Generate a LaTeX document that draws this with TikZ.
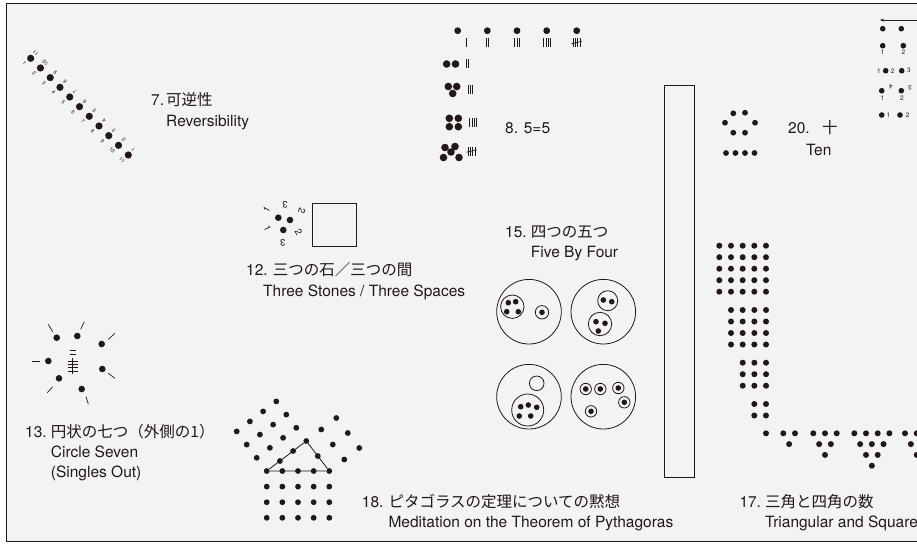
\documentclass[tikz,border=0pt]{standalone}
\usepackage{fontspec}
\setmainfont{TeX Gyre Heros}
\newfontfamily\jp{Noto Sans CJK JP}
\usetikzlibrary{arrows.meta}
\definecolor{ink}{HTML}{231815}
\definecolor{paper}{HTML}{F3F3F3}
\tikzset{
  dot/.style={circle,fill=ink,draw=none,inner sep=0pt,minimum size=#1},
  dot/.default=6pt,
  ring/.style={circle,draw=ink,line width=0.8pt,inner sep=0pt,minimum size=#1},
  lbl/.style={anchor=base west,inner sep=0pt,text=ink,font=\fontsize{15.5}{18}\selectfont},
  tiny/.style={inner sep=0pt,text=ink,font=\fontsize{6.5}{7}\selectfont},
  micro/.style={inner sep=0pt,text=ink,font=\fontsize{5.2}{6}\selectfont},
  mid/.style={inner sep=0pt,text=ink,font=\fontsize{9.5}{10}\selectfont},
  tal/.style={draw=ink,line width=0.7pt},
  edge/.style={draw=ink,line width=0.8pt},
}
\newcommand\tallyv[4]{\foreach \k in {1,...,#3}{\draw[tal] (#1+\k*2.4-2.4,#2-#4/2) -- (#1+\k*2.4-2.4,#2+#4/2);}}
\newcommand\tallyfive[3]{\tallyv{#1}{#2}{4}{#3}\draw[tal] (#1-1.5,#2+1.2) -- (#1+8.7,#2-1.2);}
\begin{document}
\begin{tikzpicture}[x=1pt,y=-1pt]
\useasboundingbox (0,0) rectangle (917,555);
\fill[white] (0,0) rectangle (917,555);
\fill[paper] (6,3) rectangle (930,541);
\draw[ink,line width=1pt] (930,3) -- (6,3) -- (6,541) -- (930,541);

% ---------- 7. Reversibility
\foreach \i in {1,...,11}{
  \pgfmathsetmacro\xx{30.7+9.76*(\i-1)}
  \pgfmathsetmacro\yy{58.3+9.67*(\i-1)}
  \pgfmathtruncatemacro\j{12-\i}
  \node[dot=7.2pt] (s\i) at (\xx,\yy) {};
  \node[micro,rotate=-45] (sl\i) at (\xx-6.3,\yy+5.3) {\i};
  \node[micro,rotate=135] (sr\i) at (\xx+5,\yy-5.3) {\j};
}
\node[lbl] (t7) at (151,105.5) {\makebox[15pt][l]{7.}{\jp 可逆性}};
\node[lbl] (t7e) at (166,126.5) {Reversibility};

% ---------- 8. 5=5
\foreach \n/\x in {1/457.7,2/487.3,3/517,4/546.7,5/576.7}{
  \node[dot=6.8pt] (f\n) at (\x,30.7) {};
}
\tallyv{466.7}{42.5}{1}{9}
\tallyv{486.1}{42.5}{2}{9}
\tallyv{514.6}{42.5}{3}{9}
\tallyv{543.5}{42.5}{4}{9}
\tallyfive{573}{42.5}{9}
\node[dot=7.6pt] (g1) at (446.7,64) {};
\node[dot=7.6pt] (g2) at (455.5,64) {};
\tallyv{466}{63}{2}{9}
\node[dot=7.6pt] (h1) at (448.3,86.5) {};
\node[dot=7.6pt] (h2) at (456.7,86.5) {};
\node[dot=7.6pt] (h3) at (452.7,93.5) {};
\tallyv{468}{89}{3}{9}
\node[dot=7.6pt] (k1) at (449.3,118.3) {};
\node[dot=7.6pt] (k2) at (458.3,118.3) {};
\node[dot=7.6pt] (k3) at (449.3,126.7) {};
\node[dot=7.6pt] (k4) at (458.3,126.7) {};
\tallyv{469.5}{122}{4}{9}
\node[dot=7.6pt] (m1) at (445,147.5) {};
\node[dot=7.6pt] (m2) at (455,146.5) {};
\node[dot=7.6pt] (m3) at (451,152) {};
\node[dot=7.6pt] (m4) at (443.5,157.5) {};
\node[dot=7.6pt] (m5) at (459,157.5) {};
\tallyfive{468}{151}{9}
\node[lbl] (t8) at (505,133.5) {8. 5=5};

% ---------- column
\draw[ink,line width=1pt] (664,85) rectangle (694,477);

% ---------- 20. Ten
\foreach \n/\x/\y in {1/733.3/113.3,2/745/112.7,3/725/122.7,4/755/122.7,5/733.3/132.7,6/745/132.7,7/726/153,8/735.5/153,9/745/153,10/754.5/153}{
  \node[dot=5.8pt] (u\n) at (\x,\y) {};
}
\node[lbl] (t20) at (788,133.5) {\makebox[34pt][l]{20.}{\jp 十}};
\node[lbl] (t20e) at (806,155.5) {Ten};

% ---------- top right
\coordinate (arS) at (917,20);
\coordinate (arE) at (880,20);
\draw[ink,line width=0.7pt,-{Stealth[length=4pt,width=3pt]}] (arS) -- (arE);
\node[dot=5.6pt] (r1) at (882.7,28.7) {};
\node[dot=5.6pt] (r2) at (901.3,28.7) {};
\node[dot=5.6pt] (r3) at (882.7,45.7) {};
\node[dot=5.6pt] (r4) at (903.3,45.7) {};
\node[tiny] (r3l) at (882.7,52.5) {1};
\node[tiny] (r4l) at (903.3,52.5) {2};
\node[tiny] (r5a) at (879,70.7) {1};
\node[dot=5.6pt] (r5) at (885.7,70.7) {};
\node[tiny] (r5b) at (892.7,70.7) {2};
\node[dot=5.6pt] (r6) at (901.7,70.7) {};
\node[tiny] (r6b) at (909,70.7) {3};
\node[dot=5.6pt] (r7) at (881.7,90.7) {};
\node[tiny,rotate=180] (r7a) at (890.7,87.3) {4};
\node[tiny] (r7b) at (882.3,98.5) {1};
\node[dot=5.6pt] (r8) at (901.3,90.7) {};
\node[tiny,rotate=180] (r8a) at (910,87.3) {3};
\node[tiny] (r8b) at (902,98.5) {2};
\node[dot=5.6pt] (r9) at (881.7,115) {};
\node[tiny] (r9a) at (888.3,115) {1};
\node[dot=5.6pt] (r10) at (900,115) {};
\node[tiny] (r10a) at (907.7,115) {2};

% ---------- 12. Three stones
\node[dot=6.6pt] (a1) at (278.3,217.7) {};
\node[dot=6.6pt] (a2) at (290,220) {};
\node[dot=6.6pt] (a3) at (283.3,230) {};
\node[mid,rotate=180] (a1t) at (285,205) {3};
\node[mid,rotate=-105] (a2t) at (302,210.5) {2};
\node[mid,rotate=60] (a1l) at (266.5,209.5) {1};
\node[mid,rotate=-65] (a3l) at (267.5,228.5) {1};
\node[mid,rotate=-60] (a2b) at (298.5,232) {2};
\node[mid,rotate=180] (a3b) at (282.7,243) {3};
\draw[ink,line width=1pt] (312.3,203.3) rectangle (356,246.7);
\node[lbl] (t12) at (246,275.5) {\makebox[26.6pt][l]{12.}{\jp 三つの石／三つの間}};
\node[lbl] (t12e) at (263,296.5) {Three Stones / Three Spaces};

% ---------- 13. Circle seven
\foreach \n/\x/\y/\ax/\ay/\bx/\by in {
  1/56.7/337.7/48.3/324.3/52.7/331.7,
  2/77.3/336/84.3/321.7/80.7/329.3,
  3/101.7/344/115/333.3/108.3/339.3,
  4/48.3/361/31.7/361.7/40/361.7,
  5/102.3/369/115/378.3/108.3/373.3,
  6/59/378.3/47.3/392.7/52.7/386.7,
  7/81.7/389/88.3/404/86/396.7}{
  \node[dot=6.6pt] (c\n) at (\x,\y) {};
  \draw[tal] (\ax,\ay) -- (\bx,\by);
}
\draw[tal] (69.5,350.5) -- (76,350.5);
\draw[tal] (69.5,354) -- (76,354);
\foreach \yy in {361,364.3,367.6,370.9}{\draw[tal] (67.5,\yy) -- (78,\yy);}
\draw[tal] (72.7,358) -- (72.7,374);
\node[lbl] (t13) at (25,437) {\makebox[25.7pt][l]{13.}{\jp 円状の七つ（外側の1）}};
\node[lbl] (t13e) at (50.7,457.5) {Circle Seven};
\node[lbl] (t13f) at (50.7,477) {(Singles Out)};

% ---------- 15. Five by four
\node[ring=64.6pt] (B1) at (529,311.7) {};
\node[ring=64.6pt] (B2) at (603.3,311.7) {};
\node[ring=64.6pt] (B3) at (529,396.7) {};
\node[ring=64.6pt] (B4) at (603.3,396.7) {};
\node[ring=23.4pt] (b1a) at (512.3,306.7) {};
\foreach \n/\x/\y in {1/508.3/302.7,2/515.7/301.7,3/506.7/311.7,4/518.3/311.7}{\node[dot=5.6pt] (q1\n) at (\x,\y) {};}
\node[ring=13.4pt] (b1b) at (542,312.3) {};
\node[dot=5.6pt] (q15) at (542,312.3) {};
\node[ring=20pt] (b2a) at (607.7,300.7) {};
\node[dot=5.6pt] (q21) at (603.3,300) {};
\node[dot=5.6pt] (q22) at (611.7,301.7) {};
\node[ring=23.4pt] (b2b) at (600,324) {};
\node[dot=5.6pt] (q23) at (596,321.7) {};
\node[dot=5.6pt] (q24) at (605,323.3) {};
\node[dot=5.6pt] (q25) at (598.3,331) {};
\node[ring=14.6pt] (b3a) at (536.7,383.3) {};
\node[ring=32pt] (b3b) at (527.7,410) {};
\foreach \n/\x/\y in {1/520.7/406.7,2/528.3/405,3/536.7/407.3,4/519.3/416,5/530.7/416}{\node[dot=5.6pt] (q3\n) at (\x,\y) {};}
\foreach \n/\x/\y in {1/585.7/389,2/600.3/389,3/618.3/388,4/624.3/402.3,5/591/411.3}{
  \node[ring=11.4pt] (w4\n) at (\x,\y) {};
  \node[dot=5.6pt] (q4\n) at (\x,\y) {};
}
\node[lbl] (t15) at (505,237) {\makebox[25.7pt][l]{15.}{\jp 四つの五つ}};
\node[lbl] (t15e) at (530.7,257) {Five By Four};

% ---------- 18. Pythagoras
\foreach \i in {0,...,4}{\foreach \j in {0,...,3}{
  \node[dot=5.8pt] (p\i\j) at (266.7+15.65*\i,471+15.6*\j) {};
}}
\foreach \i in {1,...,3}{\foreach \j in {0,...,3}{
  \node[dot=5.8pt] (L\i\j) at (266.7+13.2*\i-10*\j,471-10*\i-13.2*\j) {};
}}
\foreach \j in {1,...,3}{\node[dot=5.8pt] (L0\j) at (266.7-10*\j,471-13.2*\j) {};}
\foreach \i in {0,...,2}{\foreach \j in {1,...,2}{
  \node[dot=5.8pt] (R\i\j) at (306.3+11.5*\i+15*\j,441+15*\i-11.5*\j) {};
}}
\node[dot=5.8pt] (R10) at (317.8,456) {};
\draw[edge] (p00) -- (p40) -- (L30) -- (p00);
\node[lbl] (t18) at (361.7,507) {\makebox[26.6pt][l]{18.}{\jp ピタゴラスの定理についての黙想}};
\node[lbl] (t18e) at (388.3,527) {Meditation on the Theorem of Pythagoras};

% ---------- 17. Triangular and square numbers
\foreach \k/\xa/\ya in {5/719.3/245.7,4/731/310,3/742.7/362.7,2/754.3/404,1/766/433.3}{
  \foreach \i in {1,...,\k}{\foreach \j in {1,...,\k}{
    \node[dot=6pt] (sq\k\i\j) at (\xa+11.67*\i-11.67,\ya+11.5*\j-11.5) {};
  }}
}
\foreach \k/\xa in {2/783.3,3/813.3,4/854.3,5/905}{
  \pgfmathtruncatemacro\kk{\k-1}
  \foreach \r in {0,...,\kk}{
    \pgfmathtruncatemacro\m{\k-\r}
    \foreach \c in {1,...,\m}{
      \node[dot=6pt] (tr\k\r\c) at (\xa+5.85*\r+11.7*\c-11.7,433.3+10.8*\r) {};
    }
  }
}
\node[lbl] (t17) at (739.3,507) {\makebox[25.7pt][l]{17.}{\jp 三角と四角の数}};
\node[lbl] (t17e) at (765,527) {Triangular and Square};
\end{tikzpicture}
\end{document}
